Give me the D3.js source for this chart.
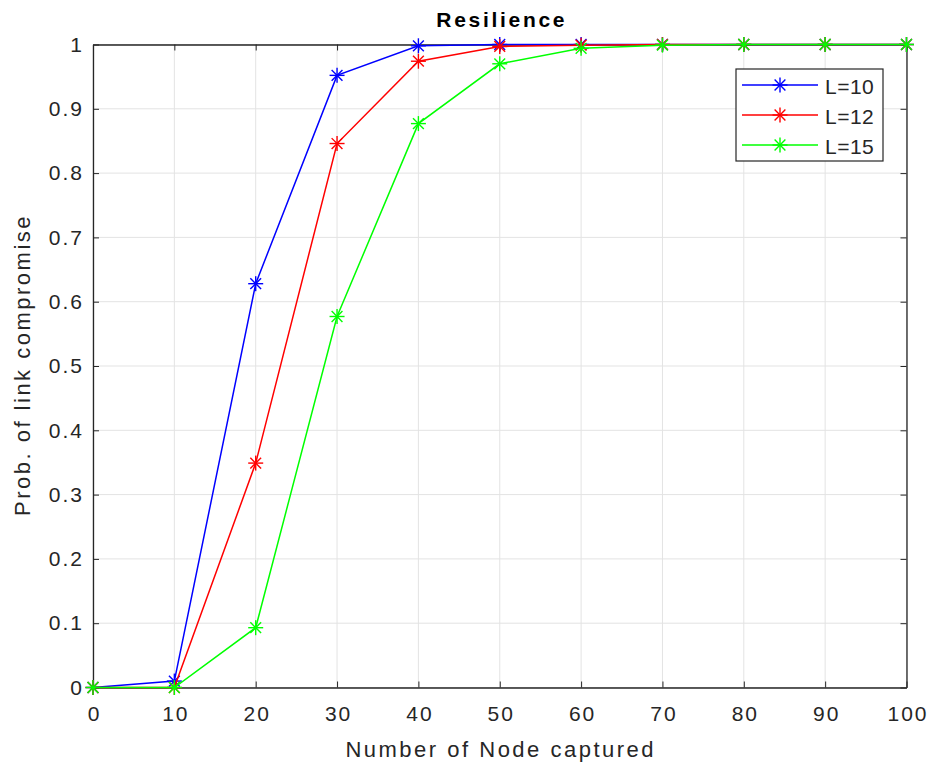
<!DOCTYPE html>
<html>
<head>
<meta charset="utf-8">
<script src="https://cdn.jsdelivr.net/npm/d3@7"></script>
<style>
  body { margin: 0; background: #fff; }
  text { font-family: "Liberation Sans", Arial, sans-serif; fill: #262626; }
</style>
</head>
<body>
<svg id="chart" width="928" height="767"></svg>
<script>
// data
var nodes = [0, 10, 20, 30, 40, 50, 60, 70, 80, 90, 100];
var l10 = [0, 0.01, 0.628, 0.952, 0.998, 1, 1, 1, 1, 1, 1];
var l12 = [0, 0, 0.349, 0.846, 0.974, 0.997, 0.999, 1, 1, 1, 1];
var l15 = [0, 0, 0.093, 0.577, 0.877, 0.970, 0.994, 0.999, 1, 1, 1];
var seriesNames = ["L=10", "L=12", "L=15"];
var seriesColors = ["#0000ff", "#ff0000", "#00ff00"];
var xTicks = [0, 10, 20, 30, 40, 50, 60, 70, 80, 90, 100];
var yTicks = [0, 0.1, 0.2, 0.3, 0.4, 0.5, 0.6, 0.7, 0.8, 0.9, 1];

var svg = d3.select('#chart');
var margin = {top: 44.5, right: 21.5, bottom: 79.5, left: 93};
var W = 928 - margin.left - margin.right;
var H = 767 - margin.top - margin.bottom;

var x = d3.scaleLinear().domain([0, 100]).range([0, W]);
var y = d3.scaleLinear().domain([0, 1]).range([H, 0]);

var g = svg.append("g")
    .attr("transform", "translate(" + margin.left + "," + margin.top + ")");

// grid
g.selectAll(".vgrid").data(xTicks).enter().append("line")
    .attr("x1", function(d) { return x(d); }).attr("x2", function(d) { return x(d); })
    .attr("y1", 0).attr("y2", H)
    .style("stroke", "#e3e3e3").style("stroke-width", 1);
g.selectAll(".hgrid").data(yTicks).enter().append("line")
    .attr("y1", function(d) { return y(d); }).attr("y2", function(d) { return y(d); })
    .attr("x1", 0).attr("x2", W)
    .style("stroke", "#e3e3e3").style("stroke-width", 1);

// axes (ticks inward, on all four sides)
var fmt = function(d) { return d3.format("")(+d.toFixed(1)); };
var xAx = g.append("g").attr("transform", "translate(0," + H + ")")
    .call(d3.axisBottom(x).tickValues(xTicks).tickSizeInner(-6).tickSizeOuter(0).tickPadding(19));
var yAx = g.append("g")
    .call(d3.axisLeft(y).tickValues(yTicks).tickFormat(fmt).tickSizeInner(-6).tickSizeOuter(0).tickPadding(9));
var xTop = g.append("g")
    .call(d3.axisTop(x).tickValues(xTicks).tickSizeInner(-6).tickSizeOuter(0).tickFormat(""));
var yRight = g.append("g").attr("transform", "translate(" + W + ",0)")
    .call(d3.axisRight(y).tickValues(yTicks).tickSizeInner(-6).tickSizeOuter(0).tickFormat(""));

[xAx, yAx, xTop, yRight].forEach(function(a) {
    a.selectAll("path").style("stroke", "#262626").style("stroke-width", 1.3);
    a.selectAll("line").style("stroke", "#262626").style("stroke-width", 1);
    a.selectAll("text").style("font-size", "21px").style("fill", "#262626")
        .style("letter-spacing", "2px")
        .style("font-family", "'Liberation Sans', Arial, sans-serif");
});
xAx.selectAll("text").attr("dx", "1px");

// lines
var line = d3.line()
    .x(function(d) { return x(d[0]); })
    .y(function(d) { return y(d[1]); });

var allSeries = [l10, l12, l15];

function star(sel, cx, cy, c) {
    var r = 7.5;
    var s = sel.append("g").attr("transform", "translate(" + cx + "," + cy + ")")
        .style("stroke", c).style("stroke-width", 1.4);
    s.append("line").attr("x1", -r).attr("x2", r).attr("y1", 0).attr("y2", 0);
    s.append("line").attr("x1", 0).attr("x2", 0).attr("y1", -r).attr("y2", r);
    var k = r * 0.72;
    s.append("line").attr("x1", -k).attr("x2", k).attr("y1", -k).attr("y2", k);
    s.append("line").attr("x1", -k).attr("x2", k).attr("y1", k).attr("y2", -k);
}

allSeries.forEach(function(vals, i) {
    var pts = nodes.map(function(n, j) { return [n, vals[j]]; });
    g.append("path")
        .datum(pts)
        .attr("d", line)
        .style("fill", "none")
        .style("stroke", seriesColors[i])
        .style("stroke-width", 1.5);
    pts.forEach(function(p) {
        star(g, x(p[0]), y(p[1]), seriesColors[i]);
    });
});

// title and labels
svg.append("text")
    .attr("x", margin.left + W / 2 + 2).attr("y", 27)
    .attr("text-anchor", "middle")
    .style("font-size", "21px").style("font-weight", "bold").style("fill", "#000")
    .style("letter-spacing", "2.7px")
    .text("Resilience");

svg.append("text")
    .attr("x", margin.left + W / 2 + 1).attr("y", 757)
    .attr("text-anchor", "middle")
    .style("font-size", "22px")
    .style("letter-spacing", "2.5px")
    .text("Number of Node captured");

svg.append("text")
    .attr("transform", "translate(30," + (margin.top + H / 2 - 1) + ") rotate(-90)")
    .attr("text-anchor", "middle")
    .style("font-size", "22px")
    .style("letter-spacing", "2.5px")
    .text("Prob. of link compromise");

// legend
var lg = svg.append("g").attr("transform", "translate(736,69)");
lg.append("rect")
    .attr("width", 147).attr("height", 92)
    .style("fill", "#fff").style("stroke", "#262626").style("stroke-width", 1.2);
seriesNames.forEach(function(name, i) {
    var yy = 16 + i * 30;
    lg.append("line")
        .attr("x1", 6).attr("x2", 82).attr("y1", yy).attr("y2", yy)
        .style("stroke", seriesColors[i]).style("stroke-width", 1.5);
    star(lg, 44, yy, seriesColors[i]);
    lg.append("text")
        .attr("x", 89).attr("y", yy + 9)
        .style("font-size", "21px")
        .style("letter-spacing", "0.5px")
        .text(name);
});
</script>
</body>
</html>
